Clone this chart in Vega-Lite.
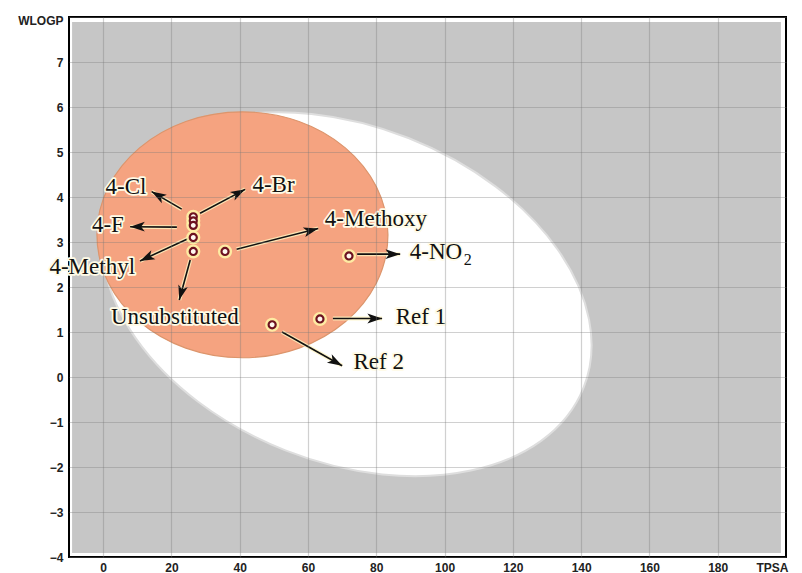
{
  "$schema": "https://vega.github.io/schema/vega-lite/v6.json",
  "width": 717,
  "height": 540,
  "autosize": {"type": "none"},
  "padding": {"left": 69, "top": 17, "right": 16, "bottom": 16},
  "background": "white",
  "config": {
    "view": {"stroke": "#000", "strokeWidth": 2},
    "axis": {
      "domain": false,
      "ticks": false,
      "grid": true,
      "gridColor": "#777",
      "gridOpacity": 0.35,
      "gridWidth": 1.2,
      "labelFont": "Liberation Sans",
      "labelFontWeight": "bold",
      "labelFontSize": 12,
      "labelColor": "#222",
      "titleFont": "Liberation Sans",
      "titleFontWeight": "bold",
      "titleFontSize": 12,
      "titleColor": "#222"
    }
  },
  "datasets": {
    "bg": [{"x": -9.1, "x2": 198.5, "y": -3.91, "y2": 7.89}],
    "hia": [{"region": "HIA (white)", "TPSA": 71.4, "WLOGP": 1.84}],
    "bbb": [{"region": "BBB (yolk)", "TPSA": 40.8, "WLOGP": 3.16}],
    "pts": [
      {"compound": "4-Br", "TPSA": 26.4, "WLOGP": 3.56},
      {"compound": "4-Cl", "TPSA": 26.4, "WLOGP": 3.47},
      {"compound": "4-F", "TPSA": 26.4, "WLOGP": 3.37},
      {"compound": "4-Methyl", "TPSA": 26.4, "WLOGP": 3.10},
      {"compound": "Unsubstituted", "TPSA": 26.4, "WLOGP": 2.79},
      {"compound": "4-Methoxy", "TPSA": 35.7, "WLOGP": 2.79},
      {"compound": "4-NO2", "TPSA": 72.0, "WLOGP": 2.69},
      {"compound": "Ref 1", "TPSA": 63.5, "WLOGP": 1.29},
      {"compound": "Ref 2", "TPSA": 49.5, "WLOGP": 1.16}
    ],
    "arrows": [
      {"x": 23.0, "y": 3.73, "x2": 14.2, "y2": 4.12, "angle": 210.4},
      {"x": 28.4, "y": 3.64, "x2": 41.6, "y2": 4.17, "angle": 331.9},
      {"x": 21.6, "y": 3.33, "x2": 7.9, "y2": 3.34, "angle": 180},
      {"x": 25.0, "y": 3.08, "x2": 10.8, "y2": 2.58, "angle": 155.1},
      {"x": 25.5, "y": 2.60, "x2": 22.3, "y2": 1.71, "angle": 105},
      {"x": 39.1, "y": 2.84, "x2": 63.0, "y2": 3.30, "angle": 345.6},
      {"x": 74.4, "y": 2.73, "x2": 87.0, "y2": 2.73, "angle": 0},
      {"x": 67.3, "y": 1.30, "x2": 81.7, "y2": 1.30, "angle": 0},
      {"x": 52.4, "y": 1.00, "x2": 70.0, "y2": 0.25, "angle": 29.3}
    ],
    "labels": [
      {"text": "4-Cl", "x": 6.7, "y": 4.23},
      {"text": "4-Br", "x": 49.9, "y": 4.27},
      {"text": "4-F", "x": 1.4, "y": 3.38},
      {"text": "4-Methyl", "x": -3.2, "y": 2.45},
      {"text": "Unsubstituted", "x": 21.0, "y": 1.34},
      {"text": "4-Methoxy", "x": 79.9, "y": 3.51},
      {"text": "4-NO", "x": 97.5, "y": 2.78},
      {"text": "Ref 1", "x": 93.1, "y": 1.34},
      {"text": "Ref 2", "x": 80.7, "y": 0.34}
    ],
    "sub": [{"text": "2", "x": 106.8, "y": 2.61}]
  },
  "layer": [
    {
      "data": {"name": "bg"},
      "mark": {"type": "rect", "color": "#c6c6c6"},
      "encoding": {
        "x": {"field": "x", "type": "quantitative", "scale": {"domain": [-10, 200], "nice": false, "zero": false},
              "axis": {"zindex": 1, "values": [0, 20, 40, 60, 80, 100, 120, 140, 160, 180], "labelPadding": 5, "title": "TPSA", "titleX": 703, "titleY": 10, "titleAlign": "center", "titleBaseline": "middle"}},
        "x2": {"field": "x2"},
        "y": {"field": "y", "type": "quantitative", "scale": {"domain": [-4, 8], "nice": false, "zero": false},
              "axis": {"zindex": 1, "values": [-4, -3, -2, -1, 0, 1, 2, 3, 4, 5, 6, 7, 8], "labelExpr": "datum.value == 8 ? '' : datum.label", "labelPadding": 6, "title": "WLOGP", "titleAngle": 0, "titleX": -6, "titleY": 3, "titleAlign": "right", "titleBaseline": "middle"}},
        "y2": {"field": "y2"}
      }
    },
    {
      "data": {"name": "hia"},
      "mark": {"type": "point", "filled": true, "fill": "#ffffff", "opacity": 1, "stroke": "#dedede", "strokeWidth": 2,
               "shape": "M -1 0 A 1 0.6596 0 1 0 1 0 A 1 0.6596 0 1 0 -1 0 Z", "size": 259000, "angle": 21.5},
      "encoding": {"x": {"field": "TPSA", "type": "quantitative"}, "y": {"field": "WLOGP", "type": "quantitative"}}
    },
    {
      "data": {"name": "bbb"},
      "mark": {"type": "point", "filled": true, "fill": "#f5a380", "opacity": 1, "stroke": "#dc956c", "strokeWidth": 1.2,
               "shape": "M -1 0 A 1 0.845 0 1 0 1 0 A 1 0.845 0 1 0 -1 0 Z", "size": 84681, "angle": 0},
      "encoding": {"x": {"field": "TPSA", "type": "quantitative"}, "y": {"field": "WLOGP", "type": "quantitative"}}
    },
    {
      "data": {"name": "arrows"},
      "mark": {"type": "rule", "color": "#fff4c0", "strokeWidth": 4, "opacity": 0.8},
      "encoding": {"x": {"field": "x", "type": "quantitative"}, "y": {"field": "y", "type": "quantitative"}, "x2": {"field": "x2"}, "y2": {"field": "y2"}}
    },
    {
      "data": {"name": "arrows"},
      "mark": {"type": "rule", "color": "#111", "strokeWidth": 1.6},
      "encoding": {"x": {"field": "x", "type": "quantitative"}, "y": {"field": "y", "type": "quantitative"}, "x2": {"field": "x2"}, "y2": {"field": "y2"}}
    },
    {
      "data": {"name": "arrows"},
      "mark": {"type": "point", "filled": true, "fill": "#111", "opacity": 1, "shape": "M 0 0 L -2.4 -0.8 L -1.8 0 L -2.4 0.8 Z", "size": 150},
      "encoding": {"x": {"field": "x2", "type": "quantitative"}, "y": {"field": "y2", "type": "quantitative"}, "angle": {"field": "angle", "type": "quantitative", "scale": null}}
    },
    {
      "data": {"name": "pts"},
      "mark": {"type": "point", "shape": "circle", "filled": true, "fill": "#fff3a6", "opacity": 0.9, "size": 200},
      "encoding": {"x": {"field": "TPSA", "type": "quantitative"}, "y": {"field": "WLOGP", "type": "quantitative"}}
    },
    {
      "data": {"name": "pts"},
      "mark": {"type": "point", "shape": "circle", "filled": false, "fill": "#fff8f0", "stroke": "#6d1220", "strokeWidth": 2.2, "opacity": 1, "size": 50},
      "encoding": {"x": {"field": "TPSA", "type": "quantitative"}, "y": {"field": "WLOGP", "type": "quantitative"}}
    },
    {
      "data": {"name": "labels"},
      "mark": {"type": "text", "font": "Liberation Serif", "fontSize": 23, "stroke": "#fffbe6", "strokeWidth": 3.5, "strokeJoin": "round", "fill": "#fffbe6", "align": "center", "baseline": "middle"},
      "encoding": {"x": {"field": "x", "type": "quantitative"}, "y": {"field": "y", "type": "quantitative"}, "text": {"field": "text"}}
    },
    {
      "data": {"name": "labels"},
      "mark": {"type": "text", "font": "Liberation Serif", "fontSize": 23, "fill": "#111", "align": "center", "baseline": "middle"},
      "encoding": {"x": {"field": "x", "type": "quantitative"}, "y": {"field": "y", "type": "quantitative"}, "text": {"field": "text"}}
    },
    {
      "data": {"name": "sub"},
      "mark": {"type": "text", "font": "Liberation Serif", "fontSize": 16, "fill": "#111", "align": "center", "baseline": "middle"},
      "encoding": {"x": {"field": "x", "type": "quantitative"}, "y": {"field": "y", "type": "quantitative"}, "text": {"field": "text"}}
    }
  ]
}
